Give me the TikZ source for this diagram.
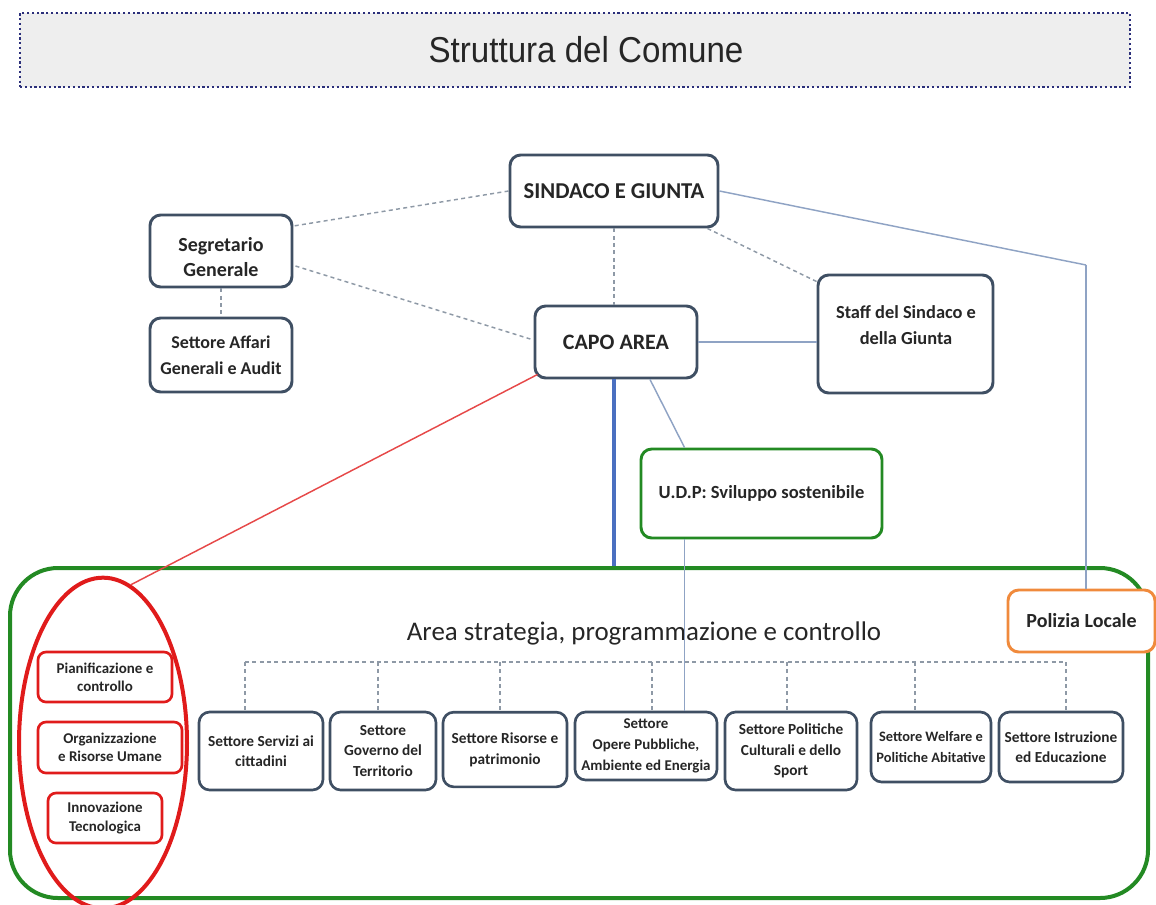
\documentclass[tikz,border=0pt]{standalone}
\usepackage{fontspec}
\setmainfont{Carlito}
\newfontfamily\titlefont[FakeStretch=0.92]{Liberation Sans}
\usetikzlibrary{shapes.geometric,calc}
\definecolor{boxc}{HTML}{3F4F63}
\definecolor{dashc}{HTML}{8E99A6}
\definecolor{linec}{HTML}{8FA3C4}
\definecolor{thickc}{HTML}{4A6FC0}
\definecolor{greenc}{HTML}{238A23}
\definecolor{redc}{HTML}{E01B1B}
\definecolor{orangec}{HTML}{F08A3C}
\definecolor{titlefill}{HTML}{EEEEEE}
\definecolor{titleedge}{HTML}{2B2F7A}
\definecolor{txtc}{HTML}{262626}
\tikzset{
  box/.style={draw=boxc, line width=2.2pt, rounded corners=8pt, fill=white, align=center, inner sep=0pt, text=txtc},
  upper/.style={box, font=\fontsize{15}{19}\selectfont\bfseries},
  sector/.style={box, line width=2pt, font=\fontsize{11.5}{15.5}\selectfont\bfseries},
  redbox/.style={draw=redc, line width=2pt, rounded corners=6pt, fill=white, align=center, inner sep=0pt, text=txtc, font=\fontsize{11.2}{13.8}\selectfont\bfseries},
  dsh/.style={draw=dashc, line width=1.1pt, dash pattern=on 3pt off 2.5pt},
  thin/.style={draw=linec, line width=1.1pt},
  lbl/.style={align=center, inner sep=0pt, text=txtc},
}
\begin{document}
\begin{tikzpicture}[x=0.75pt,y=-0.75pt]
\useasboundingbox (0,0) rectangle (1156,904);

% title
\node[draw=titleedge, line width=1.6pt, dotted, fill=titlefill, minimum width=832.5pt, minimum height=55.5pt, inner sep=0pt] (title) at (575,50) {};
\node[lbl, font=\titlefont\fontsize{27}{30}\selectfont] (titlet) at (586,50) {Struttura del Comune};

% big area box
\node[draw=greenc, line width=3pt, rounded corners=36pt, minimum width=853.5pt, minimum height=247.5pt, inner sep=0pt] (area) at (579,733) {};
\node[font=\fontsize{20.2}{24}\selectfont, text=txtc] (areat) at (644,633) {Area strategia, programmazione e controllo};

% upper boxes
\node[upper, font=\fontsize{17}{21}\selectfont\bfseries, minimum width=156pt, minimum height=54pt] (sind) at (614,191) {SINDACO E GIUNTA};
\node[upper, minimum width=106.5pt, minimum height=54pt] (seg) at (221,251) {};
\node[lbl, font=\fontsize{15}{19}\selectfont\bfseries] (segt) at (221,257) {Segretario\\Generale};
\node[upper, font=\fontsize{13.5}{19.5}\selectfont\bfseries, minimum width=106.5pt, minimum height=55.5pt] (aff) at (221,355) {Settore Affari\\Generali e Audit};
\node[upper, font=\fontsize{16.5}{21}\selectfont\bfseries, minimum width=121.5pt, minimum height=54pt] (capo) at (616,342) {CAPO AREA};
\node[upper, minimum width=131.25pt, minimum height=88.5pt] (staff) at (905.5,334) {};
\node[lbl, font=\fontsize{13.8}{19}\selectfont\bfseries] (stafft) at (906,325) {Staff del Sindaco e\\della Giunta};
\node[box, draw=greenc, line width=2.2pt, font=\fontsize{13.9}{21}\selectfont\bfseries, minimum width=180.75pt, minimum height=66.75pt] (udp) at (761.5,493.5) {U.D.P: Sviluppo sostenibile};

% connectors, upper part
\draw[dsh] (sind.west) -- ($(seg.east)+(0,-25)$);
\draw[dsh] ($(seg.east)+(2,15)$) -- ($(capo.west)+(0,-2)$);
\draw[dsh] (sind.south) -- (sind.south |- capo.north);
\draw[dsh] (seg.south) -- (aff.north);
\draw[dsh] ($(sind.south east)+(-12,0)$) -- ($(staff.north west)+(0,8)$);
\coordinate (corner) at (1086,265);
\draw[thin] (sind.east) -- (corner);
\draw[thin] (capo.east) -- (capo.east -| staff.west);
\draw[thin] ($(capo.south)+(34,0)$) -- ($(udp.north west)+(45,0)$);
\draw[draw=thickc, line width=2.4pt] (sind.south |- capo.south) -- (sind.south |- area.north);

% polizia
\node[box, draw=orangec, line width=2.2pt, font=\fontsize{15}{21}\selectfont\bfseries, minimum width=110.25pt, minimum height=46.5pt] (pol) at (1081.5,621) {Polizia Locale};
\draw[thin] (corner) -- (corner |- pol.north);

% red group
\node[draw=redc, line width=3pt, ellipse, minimum width=126pt, minimum height=248pt, inner sep=0pt] (ell) at (103,743) {};
\node[redbox, minimum width=100.5pt, minimum height=37.5pt] (pian) at (105,677) {Pianificazione e\\controllo};
\node[redbox, minimum width=108pt, minimum height=38.25pt] (org) at (110,747.5) {Organizzazione\\e Risorse Umane};
\node[redbox, minimum width=85.5pt, minimum height=37.5pt] (inn) at (105,818) {Innovazione\\Tecnologica};
\draw[draw=redc!80, line width=1.1pt] ($(capo.south west)+(4,-5)$) -- (ell.80);

% sector boxes
\node[sector, minimum width=93pt, minimum height=58.5pt] (serv) at (261,751) {Settore Servizi ai\\cittadini};
\node[sector, minimum width=79.5pt, minimum height=58.5pt] (gov) at (383,751) {Settore\\Governo del\\Territorio};
\node[sector, minimum width=93pt, minimum height=56pt] (ris) at (505,749.5) {Settore Risorse e\\patrimonio};
\node[sector, font=\fontsize{11.2}{15.5}\selectfont\bfseries, minimum width=106.5pt, minimum height=51pt] (ope) at (646,746) {Settore\\Opere Pubbliche,\\Ambiente ed Energia};
\node[sector, minimum width=99pt, minimum height=58.5pt] (cul) at (791,751) {Settore Politiche\\Culturali e dello\\Sport};
\node[sector, font=\fontsize{10.8}{15.5}\selectfont\bfseries, minimum width=90pt, minimum height=52.5pt] (wel) at (931,747) {Settore Welfare e\\Politiche Abitative};
\node[sector, minimum width=93pt, minimum height=52.5pt] (ist) at (1061,747) {Settore Istruzione\\ed Educazione};

% dashed bus
\coordinate (b1) at (245,662);
\coordinate (b2) at (378,662);
\coordinate (b3) at (500,662);
\coordinate (b4) at (652,662);
\coordinate (b5) at (787,662);
\coordinate (b6) at (915,662);
\coordinate (b7) at (1066,662);
\draw[dsh] (b1) -- (b7);
\draw[dsh] (b1) -- (b1 |- serv.north);
\draw[dsh] (b2) -- (b2 |- gov.north);
\draw[dsh] (b3) -- (b3 |- ris.north);
\draw[dsh] (b4) -- (b4 |- ope.north);
\draw[dsh] (b5) -- (b5 |- cul.north);
\draw[dsh] (b6) -- (b6 |- wel.north);
\draw[dsh] (b7) -- (b7 |- ist.north);

% udp to opere
\coordinate (udpd) at ($(udp.south west)+(45,0)$);
\draw[thin] (udpd) -- (udpd |- ope.north);
\end{tikzpicture}
\end{document}
